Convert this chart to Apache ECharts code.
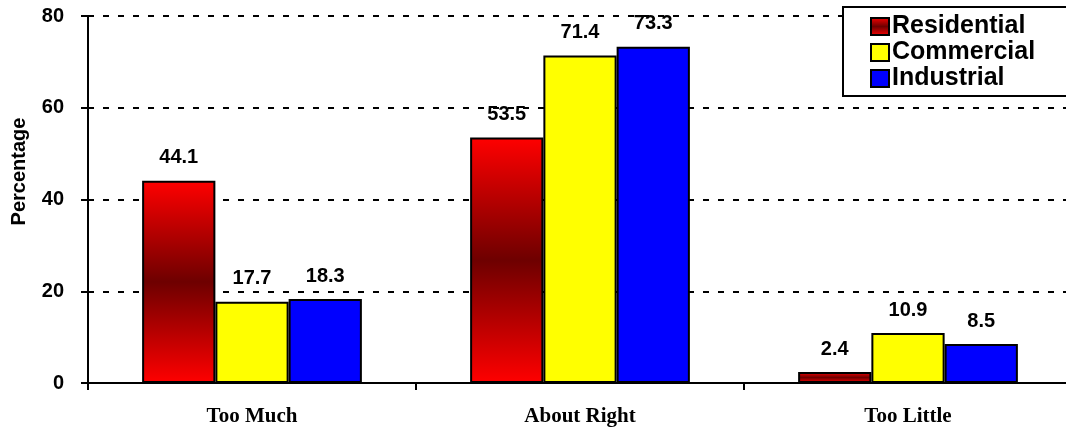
<!DOCTYPE html>
<html>
<head>
<meta charset="utf-8">
<script src="https://cdn.jsdelivr.net/npm/echarts@6/dist/echarts.min.js"></script>
<style>html,body{margin:0;padding:0;background:#fff;overflow:hidden}#c{width:1072px;height:427px}</style>
</head>
<body>
<div id="c"></div>
<script>
const categories = ['Too Much', 'About Right', 'Too Little'];
const residential = [44.1, 53.5, 2.4];
const commercial = [17.7, 71.4, 10.9];
const industrial = [18.3, 73.3, 8.5];
const yTicks = [0, 20, 40, 60, 80];

const chart = echarts.init(document.getElementById('c'));
const labelStyle = {
  show: true, position: 'top', distance: 13,
  fontFamily: 'Liberation Sans, Arial, sans-serif', fontWeight: 'bold', fontSize: 20, color: '#000'
};
const redGrad = new echarts.graphic.LinearGradient(0, 0, 0, 1, [
  {offset: 0, color: '#ff0000'},
  {offset: 0.5, color: '#6e0000'},
  {offset: 1, color: '#ff0000'}
]);
function mk(name, data, color) {
  return {
    name: name, type: 'bar', data: data,
    barGap: '0%', barCategoryGap: '33%',
    itemStyle: {color: color, borderColor: '#000', borderWidth: 2},
    label: labelStyle,
    z: 3
  };
}
chart.setOption({
  animation: false,
  backgroundColor: '#fff',
  grid: {left: 88, top: 16, bottom: 44, right: 0, containLabel: false, outerBoundsMode: 'none'},
  legend: {
    orient: 'vertical', left: 843, top: 7,
    padding: [7, 60, 5, 27],
    backgroundColor: '#fff', borderColor: '#000', borderWidth: 2, borderRadius: 0,
    itemWidth: 18, itemHeight: 17, itemGap: 1,
    icon: 'rect',
    textStyle: {fontFamily: 'Liberation Sans, Arial, sans-serif', fontWeight: 'bold', fontSize: 25, color: '#000', lineHeight: 25, padding: [0,0,0,-2]},
    itemStyle: {borderColor: '#000', borderWidth: 2},
    data: ['Residential', 'Commercial', 'Industrial'],
    z: 10
  },
  xAxis: {
    type: 'category', data: categories,
    axisLine: {lineStyle: {color: '#000', width: 2}},
    axisTick: {show: true, length: 7, lineStyle: {color: '#000', width: 2}},
    axisLabel: {margin: 23, fontFamily: 'Liberation Serif, Times New Roman, serif', fontWeight: 'bold', fontSize: 21, color: '#000'}
  },
  yAxis: {
    type: 'value', min: yTicks[0], max: yTicks[yTicks.length - 1], interval: 20,
    name: 'Percentage', nameLocation: 'middle', nameGap: 59, nameRotate: 90,
    nameTextStyle: {fontFamily: 'Liberation Sans, Arial, sans-serif', fontWeight: 'bold', fontSize: 20, color: '#000', padding: [0, 0, 0, 56]},
    axisLine: {show: true, lineStyle: {color: '#000', width: 2}},
    axisTick: {show: true, length: 7, lineStyle: {color: '#000', width: 2}},
    axisLabel: {margin: 24, fontFamily: 'Liberation Sans, Arial, sans-serif', fontWeight: 'bold', fontSize: 20, color: '#000'},
    splitLine: {show: true, lineStyle: {color: '#000', width: 2, type: [6, 9]}}
  },
  series: [
    mk('Residential', residential, redGrad),
    mk('Commercial', commercial, '#ffff00'),
    mk('Industrial', industrial, '#0000ff')
  ]
});
</script>
</body>
</html>
